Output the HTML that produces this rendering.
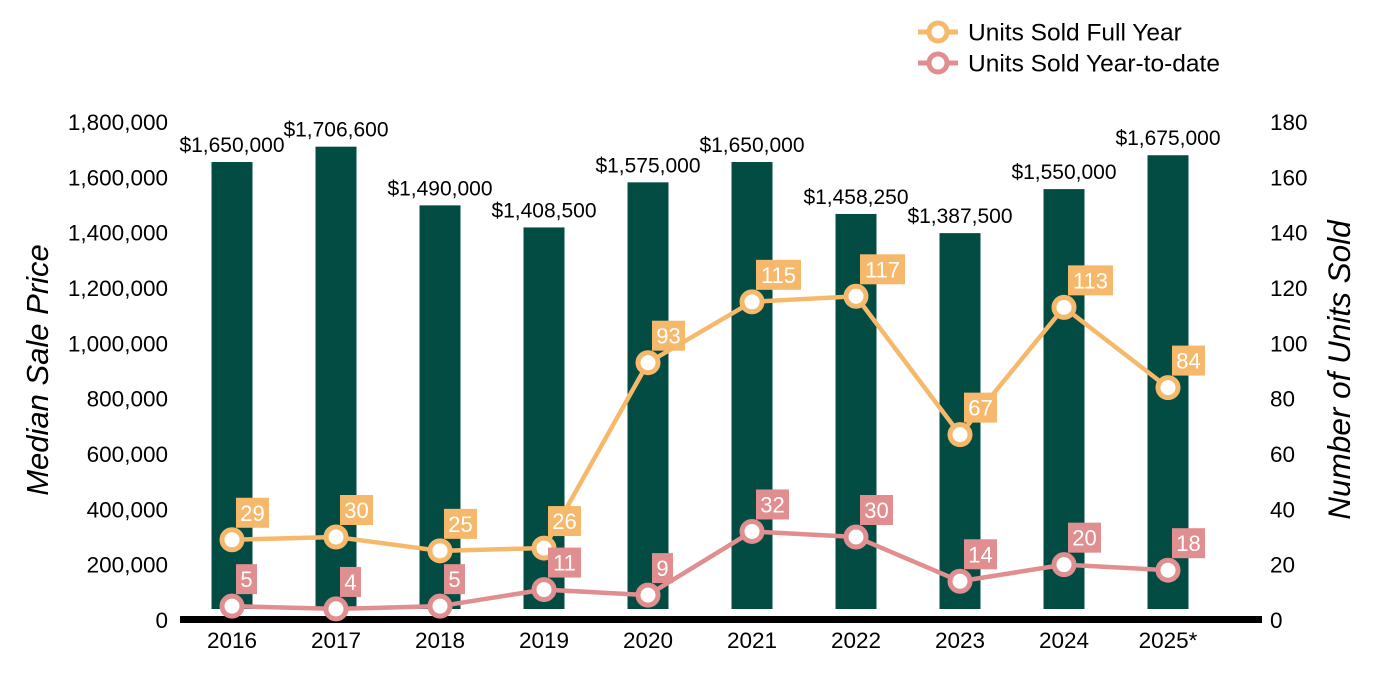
<!DOCTYPE html>
<html><head><meta charset="utf-8"><style>
body{margin:0;background:#fff;}
svg{display:block;font-family:"Liberation Sans",Arial,sans-serif;}
</style></head><body>
<svg id="c" width="1400" height="700"></svg>
<script>
const categories=["2016","2017","2018","2019","2020","2021","2022","2023","2024","2025*"];
const prices=[1650000,1706600,1490000,1408500,1575000,1650000,1458250,1387500,1550000,1675000];
const fullYear=[29,30,25,26,93,115,117,67,113,84];
const ytd=[5,4,5,11,9,32,30,14,20,18];
const leftTicks=[0,200000,400000,600000,800000,1000000,1200000,1400000,1600000,1800000];
const rightTicks=[0,20,40,60,80,100,120,140,160,180];
const NS="http://www.w3.org/2000/svg";
const svg=document.getElementById('c');
function el(t,a,p){const e=document.createElementNS(NS,t);for(const k in a)e.setAttribute(k,a[k]);(p||svg).appendChild(e);return e;}
const xC=i=>232+i*104;
const yL=v=>620-v/1800000*498;
const yBar=v=>609-v/1000000*270.9;
const yR=v=>620-v/180*498;
const fmt=v=>v.toLocaleString('en-US');
leftTicks.forEach(v=>{const t=el('text',{x:168,y:yL(v)+8,'text-anchor':'end','font-size':22.5,fill:'#000'});t.textContent=fmt(v);

});
rightTicks.forEach(v=>{const t=el('text',{x:1270,y:yR(v)+8,'font-size':22.5,fill:'#000'});t.textContent=v;

});
let t=el('text',{transform:'translate(48,370) rotate(-90)','text-anchor':'middle','font-size':31,'font-style':'italic',fill:'#000'});t.textContent='Median Sale Price';

t=el('text',{transform:'translate(1350,370) rotate(-90)','text-anchor':'middle','font-size':31.5,'font-style':'italic',fill:'#000'});t.textContent='Number of Units Sold';

prices.forEach((v,i)=>{const b=el('rect',{x:xC(i)-20.5,y:yBar(v),width:41,height:609-yBar(v),fill:'#024c43'});


const l=el('text',{x:xC(i),y:yBar(v)-10,'text-anchor':'middle','font-size':21,fill:'#000'});l.textContent='$'+fmt(v);

});
const ax=el('rect',{x:180,y:616,width:1082,height:7,fill:'#000'});

categories.forEach((c,i)=>{const l=el('text',{x:xC(i),y:648,'text-anchor':'middle','font-size':22.5,fill:'#000'});l.textContent=c;

});
function series(data,color,name){
 const pl=el('polyline',{points:data.map((v,i)=>xC(i)+','+yR(v)).join(' '),fill:'none',stroke:color,'stroke-width':4.5});
 
 
 data.forEach((v,i)=>{const x=xC(i),y=yR(v);
  const c=el('circle',{cx:x,cy:y,r:10,fill:'#fff',stroke:color,'stroke-width':5});
  
  
  const s=String(v);const w=s.length*12+9;
  const r=el('rect',{x:x+4,y:y-42,width:w,height:30,fill:color});
  
  
  const tx=el('text',{x:x+4+w/2,y:y-19,'text-anchor':'middle','font-size':22,fill:'#fff'});tx.textContent=s;
  
  });
}
series(fullYear,'#f6b96b','full-year');
series(ytd,'#e08e8f','ytd');
[['Units Sold Full Year','#f6b96b',32],['Units Sold Year-to-date','#e08e8f',63]].forEach(([txt,col,y])=>{
 const g=el('g',{});
 
 
 el('line',{x1:918,y1:y,x2:958,y2:y,stroke:col,'stroke-width':5},g);
 el('circle',{cx:938,cy:y,r:9,fill:'#fff',stroke:col,'stroke-width':5},g);
 const l=el('text',{x:968,y:y+8.5,'font-size':24.5,fill:'#000'},g);l.textContent=txt;});
</script>
</body></html>
